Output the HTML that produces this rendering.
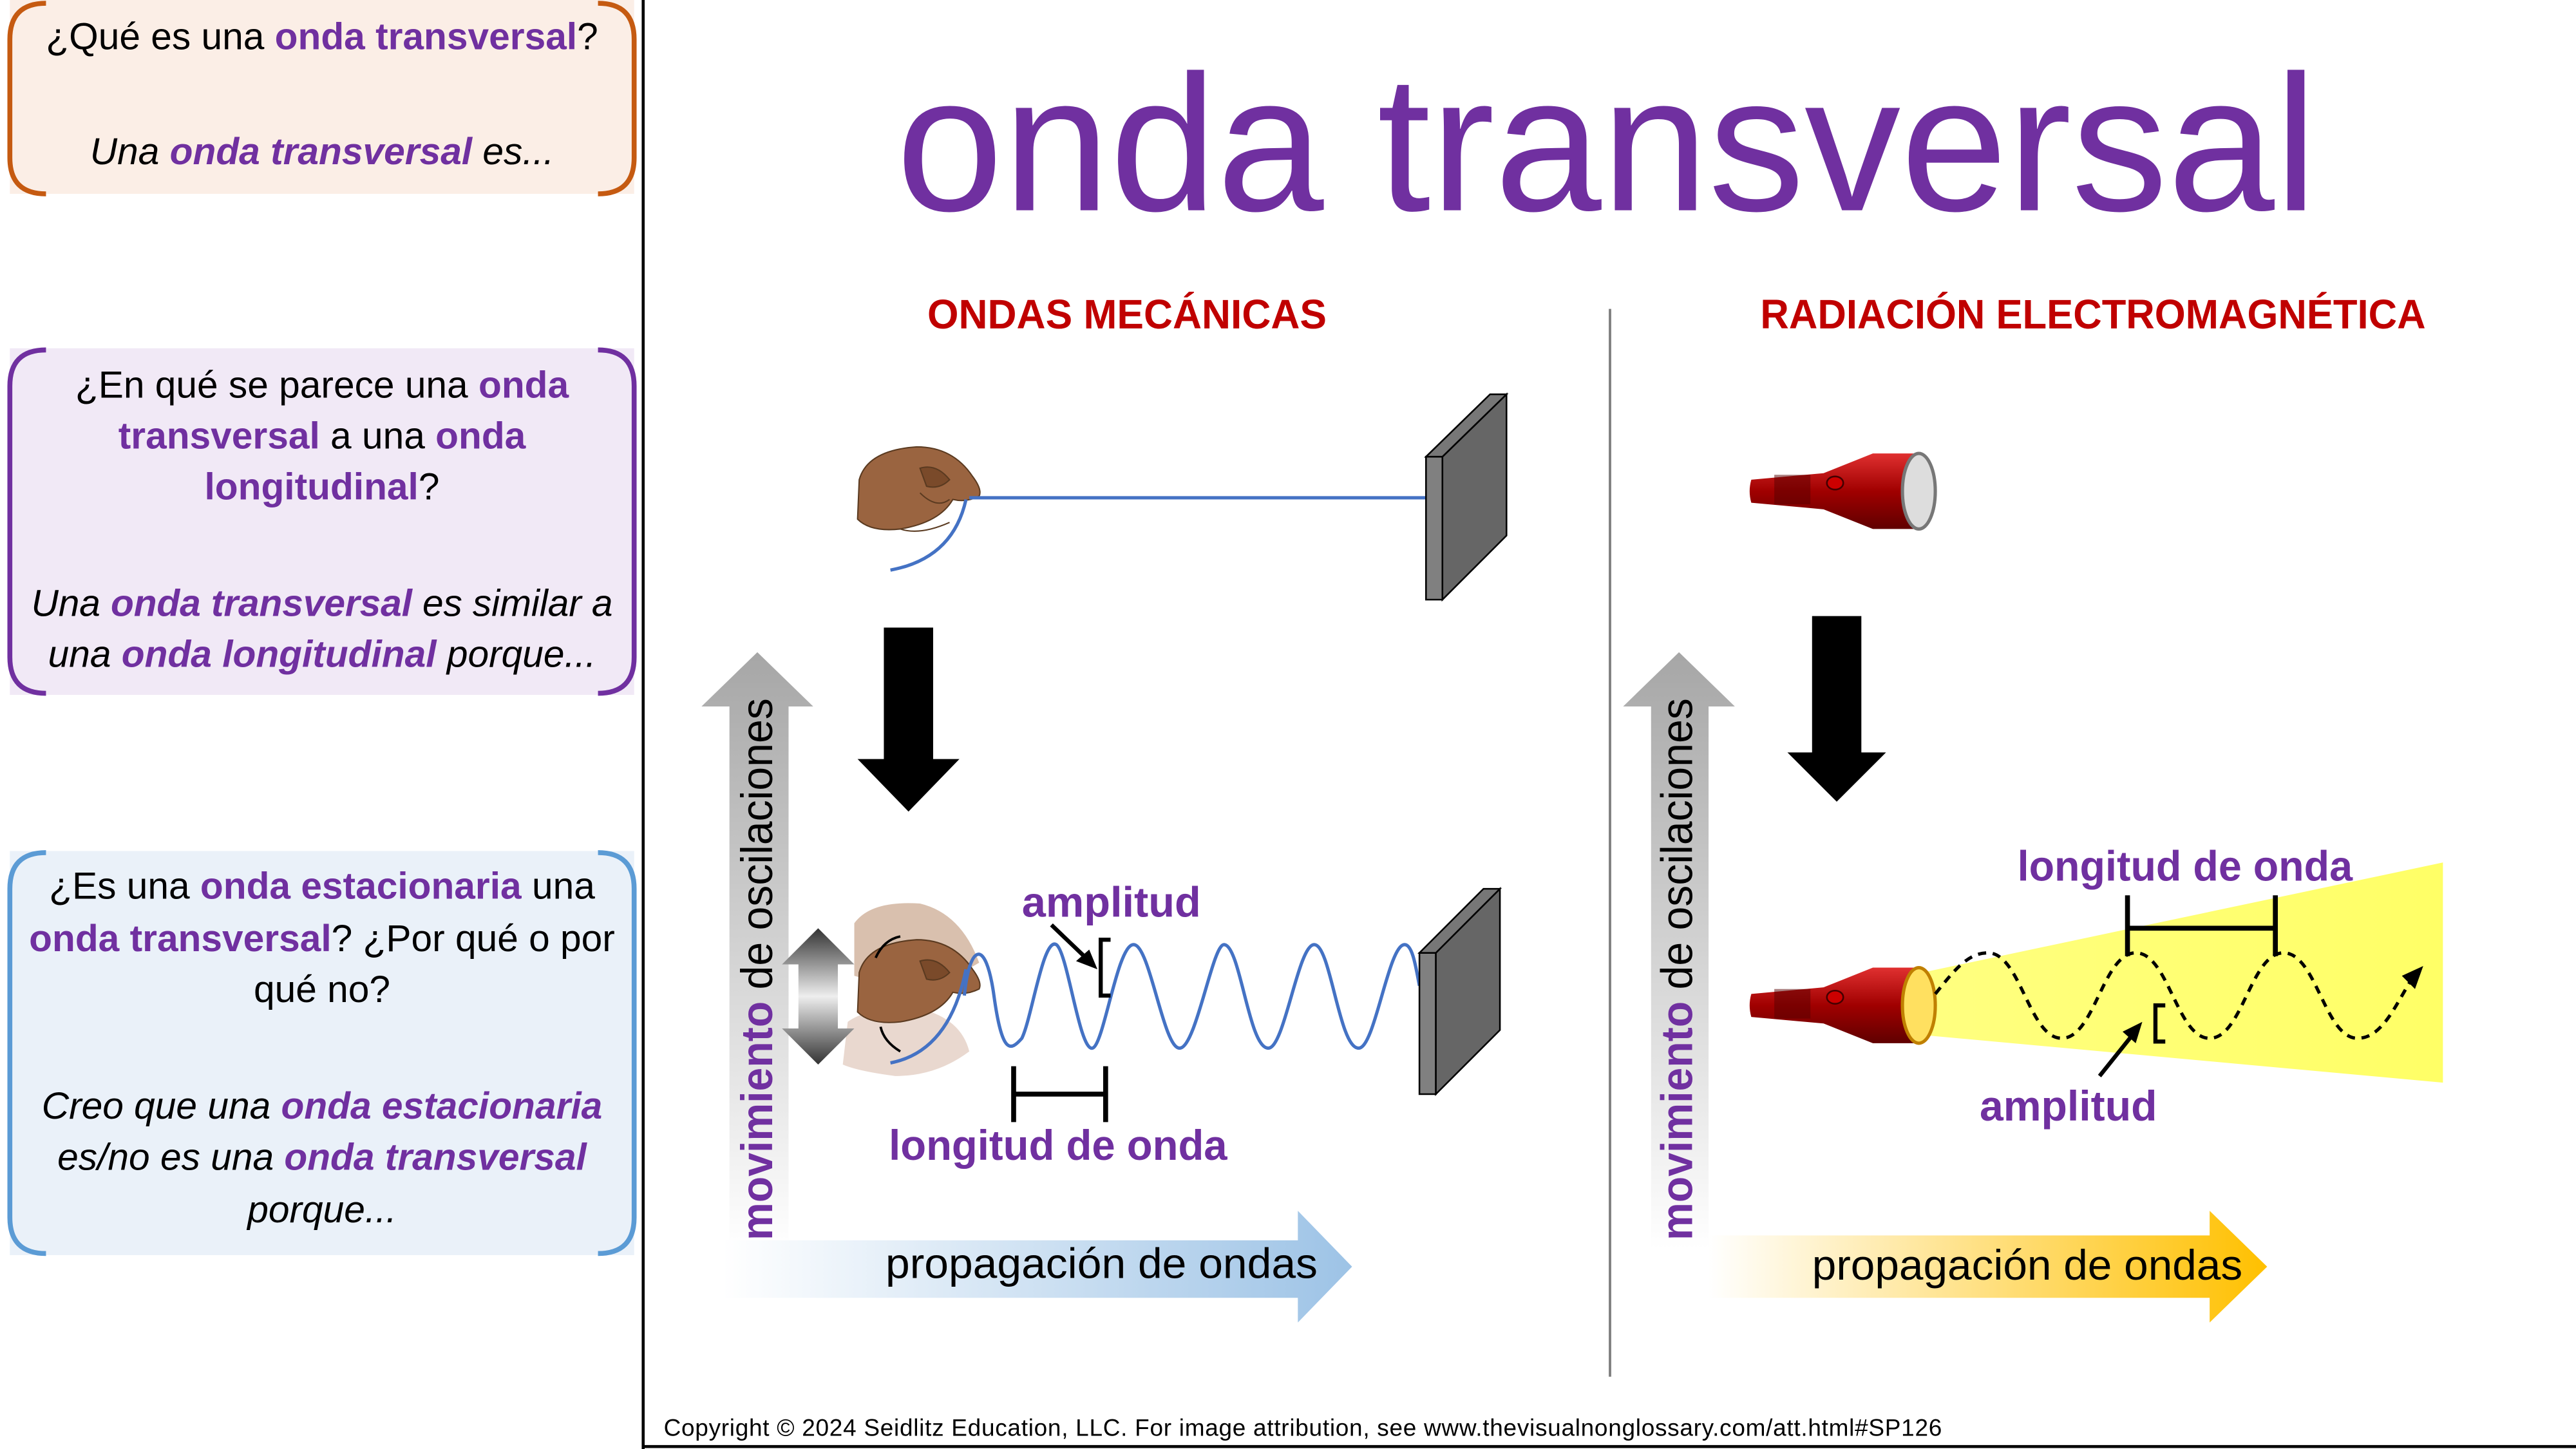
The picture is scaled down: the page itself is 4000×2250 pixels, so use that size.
<!DOCTYPE html>
<html><head><meta charset="utf-8"><style>
html,body{margin:0;padding:0;background:#fff;}
svg{display:block;}
text{font-family:"Liberation Sans",sans-serif;}
</style></head><body>
<svg width="4000" height="2250" viewBox="0 0 1568 882" xmlns="http://www.w3.org/2000/svg">
<defs>
<linearGradient id="gv" x1="0" y1="0" x2="0" y2="1"><stop offset="0" stop-color="#a6a6a6"/><stop offset="1" stop-color="#fff"/></linearGradient>
<linearGradient id="gb" x1="0" y1="0" x2="1" y2="0"><stop offset="0" stop-color="#fff"/><stop offset="1" stop-color="#9dc3e6"/></linearGradient>
<linearGradient id="go" x1="0" y1="0" x2="1" y2="0"><stop offset="0" stop-color="#fff"/><stop offset="1" stop-color="#ffc000"/></linearGradient>
<linearGradient id="gy" x1="0" y1="0" x2="1" y2="0"><stop offset="0" stop-color="#ffff80"/><stop offset="1" stop-color="#ffff66"/></linearGradient>
<linearGradient id="gd" x1="0" y1="0" x2="0" y2="1"><stop offset="0" stop-color="#333"/><stop offset="0.5" stop-color="#eee"/><stop offset="1" stop-color="#333"/></linearGradient>
<linearGradient id="gr" x1="0" y1="0" x2="0" y2="1"><stop offset="0" stop-color="#e03030"/><stop offset="0.5" stop-color="#a00000"/><stop offset="1" stop-color="#600000"/></linearGradient>
</defs>
<rect width="1568" height="882" fill="#fff"/>
<rect x="6" y="0" width="380" height="118" fill="#fbeee6"/>
<path d="M28,2 Q6,2 6,24 L6,96 Q6,118 28,118 M364,2 Q386,2 386,24 L386,96 Q386,118 364,118" fill="none" stroke="#c55a11" stroke-width="3"/>
<rect x="6" y="212" width="380" height="211" fill="#f1e9f6"/>
<path d="M28,213 Q6,213 6,235 L6,400 Q6,422 28,422 M364,213 Q386,213 386,235 L386,400 Q386,422 364,422" fill="none" stroke="#7030a0" stroke-width="3"/>
<rect x="6" y="518" width="380" height="246" fill="#eaf1f9"/>
<path d="M28,519 Q6,519 6,541 L6,741 Q6,763 28,763 M364,519 Q386,519 386,541 L386,741 Q386,763 364,763" fill="none" stroke="#5b9bd5" stroke-width="3"/>
<g font-size="23" text-anchor="middle" fill="#000">
<text x="196" y="30">¿Qué es una <tspan fill="#7030a0" font-weight="bold">onda transversal</tspan>?</text>
<text x="196" y="100" font-style="italic">Una <tspan fill="#7030a0" font-weight="bold">onda transversal</tspan> es...</text>
<text x="196" y="242">¿En qué se parece una <tspan fill="#7030a0" font-weight="bold">onda</tspan></text>
<text x="196" y="273"><tspan fill="#7030a0" font-weight="bold">transversal</tspan> a una <tspan fill="#7030a0" font-weight="bold">onda</tspan></text>
<text x="196" y="304"><tspan fill="#7030a0" font-weight="bold">longitudinal</tspan>?</text>
<text x="196" y="375" font-style="italic" textLength="354">Una <tspan fill="#7030a0" font-weight="bold">onda transversal</tspan> es similar a</text>
<text x="196" y="406" font-style="italic">una <tspan fill="#7030a0" font-weight="bold">onda longitudinal</tspan> porque...</text>
<text x="196" y="547">¿Es una <tspan fill="#7030a0" font-weight="bold">onda estacionaria</tspan> una</text>
<text x="196" y="579"><tspan fill="#7030a0" font-weight="bold">onda transversal</tspan>? ¿Por qué o por</text>
<text x="196" y="610">qué no?</text>
<text x="196" y="681" font-style="italic">Creo que una <tspan fill="#7030a0" font-weight="bold">onda estacionaria</tspan></text>
<text x="196" y="712" font-style="italic">es/no es una <tspan fill="#7030a0" font-weight="bold">onda transversal</tspan></text>
<text x="196" y="744" font-style="italic">porque...</text>
</g>
<line x1="391.5" y1="0" x2="391.5" y2="882" stroke="#000" stroke-width="1.8"/>
<line x1="391" y1="880.5" x2="1568" y2="880.5" stroke="#000" stroke-width="1.8"/>
<text x="404" y="874" font-size="14.5" fill="#000" textLength="778">Copyright © 2024 Seidlitz Education, LLC.  For image attribution, see www.thevisualnonglossary.com/att.html#SP126</text>
<text x="978" y="128" font-size="118" fill="#7030a0" text-anchor="middle" textLength="865" lengthAdjust="spacingAndGlyphs">onda transversal</text>
<text x="686" y="200" font-size="25" font-weight="bold" fill="#c00000" text-anchor="middle" textLength="243" lengthAdjust="spacingAndGlyphs">ONDAS MECÁNICAS</text>
<text x="1274" y="200" font-size="25" font-weight="bold" fill="#c00000" text-anchor="middle" textLength="405" lengthAdjust="spacingAndGlyphs">RADIACIÓN ELECTROMAGNÉTICA</text>
<line x1="980" y1="188" x2="980" y2="838" stroke="#7f7f7f" stroke-width="1.5"/>

<polygon points="444,430 427,430 461,397 495,430 480,430 480,760 444,760" fill="url(#gv)"/>
<polygon points="440,755 790,755 790,737 823,771 790,805 790,790 440,790" fill="url(#gb)"/>
<text x="539" y="778" font-size="26" fill="#000" textLength="263" lengthAdjust="spacingAndGlyphs">propagación de ondas</text>
<text transform="translate(470,755) rotate(-90)" font-size="27" fill="#000" textLength="330" lengthAdjust="spacingAndGlyphs"><tspan fill="#7030a0" font-weight="bold">movimiento</tspan> de oscilaciones</text>
<!-- hand top -->
<g stroke="#5a3a20" stroke-width="0.8">
<path d="M523,292 Q528,274 558,272 Q580,272 592,290 Q598,298 596,302 Q588,306 580,304 Q572,318 548,322 Q530,324 522,316 Z" fill="#9a6440"/>
<path d="M560,285 Q570,282 578,292 Q572,298 564,296 Z" fill="#7a4a2a"/>
<path d="M548,322 Q560,326 578,318 M560,300 Q570,310 578,304" fill="none"/>
</g>
<line x1="590" y1="303" x2="868" y2="303" stroke="#4472c4" stroke-width="2"/>
<path d="M588,304 Q580,340 542,347" fill="none" stroke="#4472c4" stroke-width="2"/>
<polygon points="868,278 878,278 878,365 868,365" fill="#808080" stroke="#000" stroke-width="1"/>
<polygon points="878,278 917,240 917,326 878,365" fill="#666" stroke="#000" stroke-width="1"/>
<polygon points="868,278 907,240 917,240 878,278" fill="#777" stroke="#000" stroke-width="1"/>
<polygon points="538,382 568,382 568,462 584,462 553,494 522,462 538,462" fill="#000"/>
<!-- moving hand -->
<path d="M520,562 Q530,548 560,550 Q585,556 596,586 Q580,596 560,598 Q540,600 520,594 Z" fill="#c9a58c" opacity="0.7"/>
<path d="M516,622 Q530,612 560,614 Q585,620 590,640 Q570,655 545,655 Q522,652 513,648 Z" fill="#e0c8ba" opacity="0.7"/>
<g stroke="#5a3a20" stroke-width="0.8">
<path d="M523,592 Q528,574 558,572 Q580,572 592,590 Q598,598 596,602 Q588,606 580,604 Q572,618 548,622 Q530,624 522,616 Z" fill="#9a6440"/>
<path d="M560,585 Q570,582 578,592 Q572,598 564,596 Z" fill="#7a4a2a"/>
</g>
<path d="M533,583 Q538,572 548,570 M536,625 Q538,634 548,640" fill="none" stroke="#000" stroke-width="1.5"/>
<polygon points="498,565 520,587 510,587 510,626 520,626 498,648 476,626 486,626 486,587 476,587" fill="url(#gd)"/>
<path d="M588,590 Q578,640 542,647" fill="none" stroke="#4472c4" stroke-width="2"/>
<path d="M587,606 C590,575 600,570 605,606 S615,640 622,632 C628,620 635,570 643,575 C650,580 657,640 665,638 C672,636 680,575 690,575 C700,575 708,638 718,638 C728,638 738,575 745,575 C755,575 760,638 772,638 C782,638 790,575 800,575 C810,575 815,638 827,638 C837,638 845,575 855,575 C860,575 862,590 864,600" fill="none" stroke="#4472c4" stroke-width="2"/>
<polygon points="864,580 874,580 874,666 864,666" fill="#808080" stroke="#000" stroke-width="1"/>
<polygon points="874,580 913,541 913,627 874,666" fill="#666" stroke="#000" stroke-width="1"/>
<polygon points="864,580 903,541 913,541 874,580" fill="#777" stroke="#000" stroke-width="1"/>
<text x="622" y="558" font-size="26" font-weight="bold" fill="#7030a0" textLength="109" lengthAdjust="spacingAndGlyphs">amplitud</text>
<path d="M676,572 L670,572 L670,606 L676,606" fill="none" stroke="#000" stroke-width="2.5"/>
<line x1="640" y1="563" x2="662" y2="584" stroke="#000" stroke-width="2.5"/>
<polygon points="668,590 655,585 663,578" fill="#000"/>
<path d="M617,649 L617,683 M673,649 L673,683 M617,666 L673,666" stroke="#000" stroke-width="3"/>
<text x="541" y="706" font-size="26" font-weight="bold" fill="#7030a0" textLength="206" lengthAdjust="spacingAndGlyphs">longitud de onda</text>

<polygon points="1005,430 988,430 1022,397 1056,430 1040,430 1040,760 1005,760" fill="url(#gv)"/>
<polygon points="1040,752 1345,752 1345,737 1380,771 1345,805 1345,790 1040,790" fill="url(#go)"/>
<text x="1103" y="779" font-size="26" fill="#000" textLength="262" lengthAdjust="spacingAndGlyphs">propagación de ondas</text>
<text transform="translate(1030,755) rotate(-90)" font-size="27" fill="#000" textLength="330" lengthAdjust="spacingAndGlyphs"><tspan fill="#7030a0" font-weight="bold">movimiento</tspan> de oscilaciones</text>
<!-- flashlight 1 -->
<path d="M1066,292 Q1064,299 1066,306 L1110,310 L1140,322 L1165,322 L1165,276 L1140,276 L1110,288 Z" fill="url(#gr)"/>
<rect x="1080" y="289" width="22" height="18" fill="#500" opacity="0.5"/>
<ellipse cx="1117" cy="294" rx="5" ry="4" fill="#c00" stroke="#400"/>
<ellipse cx="1168" cy="299" rx="10" ry="23" fill="#ddd" stroke="#777" stroke-width="2"/>
<polygon points="1103,375 1133,375 1133,458 1148,458 1118,488 1088,458 1103,458" fill="#000"/>
<polygon points="1170,592 1487,525 1487,659 1170,630" fill="url(#gy)"/>
<path d="M1066,605 Q1064,612 1066,619 L1110,623 L1140,635 L1165,635 L1165,589 L1140,589 L1110,601 Z" fill="url(#gr)"/>
<rect x="1080" y="602" width="22" height="18" fill="#500" opacity="0.5"/>
<ellipse cx="1117" cy="607" rx="5" ry="4" fill="#c00" stroke="#400"/>
<ellipse cx="1168" cy="612" rx="10" ry="23" fill="#ffe060" stroke="#c08000" stroke-width="2"/>
<path d="M1178,605 C1190,590 1198,580 1210,580 C1230,580 1235,632 1255,632 C1275,632 1280,580 1300,580 C1320,580 1325,632 1345,632 C1365,632 1370,580 1390,580 C1410,580 1415,632 1435,632 C1450,632 1458,612 1468,596" fill="none" stroke="#000" stroke-width="2" stroke-dasharray="5,4"/>
<polygon points="1475,588 1462,594 1470,602" fill="#000"/>
<path d="M1295,545 L1295,582 M1385,545 L1385,582 M1295,565 L1385,565" stroke="#000" stroke-width="3"/>
<text x="1228" y="536" font-size="26" font-weight="bold" fill="#7030a0" textLength="204" lengthAdjust="spacingAndGlyphs">longitud de onda</text>
<path d="M1318,612 L1312,612 L1312,634 L1318,634" fill="none" stroke="#000" stroke-width="2.5"/>
<line x1="1278" y1="655" x2="1298" y2="630" stroke="#000" stroke-width="2.5"/>
<polygon points="1304,622 1292,628 1300,635" fill="#000"/>
<text x="1205" y="682" font-size="26" font-weight="bold" fill="#7030a0" textLength="108" lengthAdjust="spacingAndGlyphs">amplitud</text>
</svg>
</body></html>
